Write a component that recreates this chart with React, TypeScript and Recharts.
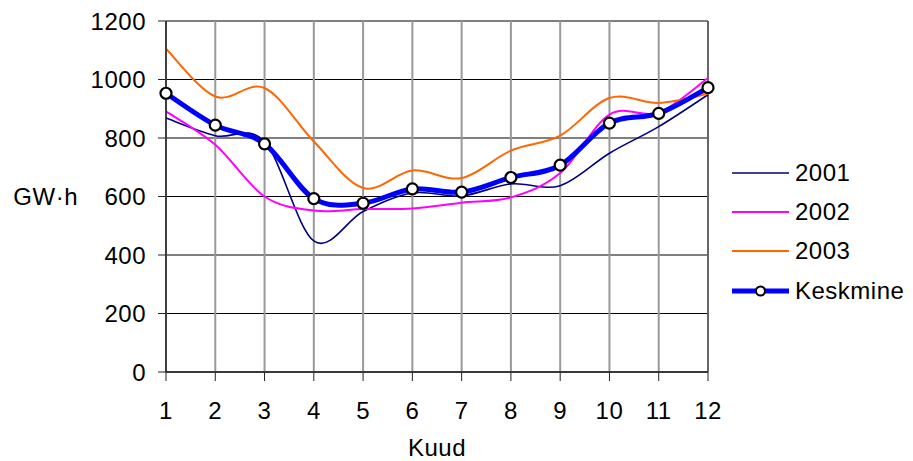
import {
  LineChart,
  Line,
  XAxis,
  YAxis,
  CartesianGrid,
  Legend,
  ReferenceLine,
} from 'recharts';

const MONTHS = [1, 2, 3, 4, 5, 6, 7, 8, 9, 10, 11, 12];
const Y_TICKS = [0, 200, 400, 600, 800, 1000, 1200];

const Y2001 = [868, 808, 788, 448, 549, 612, 602, 643, 637, 748, 839, 948];
const Y2002 = [891, 777, 600, 552, 557, 559, 579, 597, 680, 880, 887, 1005];
const Y2003 = [1105, 942, 971, 788, 629, 689, 663, 757, 808, 937, 920, 951];
const KESKMINE = [953, 844, 780, 593, 577, 626, 615, 665, 707, 851, 884, 972];

const FONT = '"Liberation Sans", Arial, sans-serif';
const FS = 24;
const LS = 0.5;

const SERIES = [
  { key: 's2001', name: '2001', color: '#000080', width: 1.6 },
  { key: 's2002', name: '2002', color: '#ff00ff', width: 2 },
  { key: 's2003', name: '2003', color: '#ff6600', width: 2 },
  { key: 'avg', name: 'Keskmine', color: '#0000ff', width: 5 },
];

const data = MONTHS.map((m, i) => ({
  month: m,
  s2001: Y2001[i],
  s2002: Y2002[i],
  s2003: Y2003[i],
  avg: KESKMINE[i],
}));

// Excel-like smoothing (Catmull-Rom style bezier)
function smooth(context: any) {
  let pts: number[][] = [];
  return {
    areaStart() {},
    areaEnd() {},
    lineStart() {
      pts = [];
    },
    point(x: number, y: number) {
      pts.push([+x, +y]);
    },
    lineEnd() {
      if (!pts.length) return;
      context.moveTo(pts[0][0], pts[0][1]);
      for (let i = 0; i < pts.length - 1; i++) {
        const p0 = pts[i - 1] || pts[i];
        const p1 = pts[i];
        const p2 = pts[i + 1];
        const p3 = pts[i + 2] || p2;
        context.bezierCurveTo(
          p1[0] + (p2[0] - p0[0]) / 6,
          p1[1] + (p2[1] - p0[1]) / 6,
          p2[0] - (p3[0] - p1[0]) / 6,
          p2[1] - (p3[1] - p1[1]) / 6,
          p2[0],
          p2[1]
        );
      }
    },
  };
}

function LegendBox() {
  return (
    <div style={{ fontFamily: FONT, fontSize: FS, letterSpacing: LS, color: '#000' }}>
      {SERIES.map((s) => (
        <div key={s.key} style={{ display: 'flex', alignItems: 'center', height: 39.3 }}>
          <svg width={57} height={14}>
            <line x1={0} y1={7} x2={57} y2={7} stroke={s.color} strokeWidth={s.width} />
            {s.key === 'avg' && (
              <circle cx={28.5} cy={7} r={4.5} fill="#fff" stroke="#000" strokeWidth={2} />
            )}
          </svg>
          <span style={{ marginLeft: 6 }}>{s.name}</span>
        </div>
      ))}
    </div>
  );
}

const textStyle = { fontSize: FS, fill: '#000', fontFamily: FONT, letterSpacing: LS };

export default function App() {
  return (
    <div style={{ position: 'absolute', left: 0, top: 0 }}>
      <LineChart
        width={913}
        height={461}
        data={data}
        margin={{ top: 21, right: 205, bottom: 0, left: 86 }}
      >
        <CartesianGrid stroke="#000" horizontal vertical={false} strokeWidth={1} />
        <CartesianGrid stroke="#999" horizontal={false} vertical strokeWidth={2} />
        <ReferenceLine x={12} stroke="#666" strokeWidth={2} />
        <XAxis
          dataKey="month"
          type="number"
          domain={[1, 12]}
          ticks={MONTHS}
          interval={0}
          height={89}
          tickSize={9}
          tickMargin={21}
          axisLine={{ stroke: '#222', strokeWidth: 1.5 }}
          tickLine={{ stroke: '#222' }}
          tick={textStyle}
          label={{ value: 'Kuud', position: 'insideBottom', offset: 5, ...textStyle }}
        />
        <YAxis
          type="number"
          domain={[0, 1200]}
          ticks={Y_TICKS}
          interval={0}
          width={80}
          tickSize={8}
          tickMargin={12}
          axisLine={{ stroke: '#222', strokeWidth: 1.5 }}
          tickLine={{ stroke: '#222' }}
          tick={textStyle}
          label={{ value: 'GW·h', position: 'left', offset: 8, ...textStyle }}
        />
        <Legend
          layout="vertical"
          align="center"
          verticalAlign="middle"
          content={<LegendBox />}
          wrapperStyle={{ position: 'absolute', left: 732, top: 153, width: 181 }}
        />
        {SERIES.map((s) => (
          <Line
            key={s.key}
            dataKey={s.key}
            name={s.name}
            type={smooth as any}
            stroke={s.color}
            strokeWidth={s.width}
            dot={s.key === 'avg' ? { r: 5.5, fill: '#fff', stroke: '#000', strokeWidth: 2.2 } : false}
            activeDot={false}
            isAnimationActive={false}
          />
        ))}
      </LineChart>
    </div>
  );
}
